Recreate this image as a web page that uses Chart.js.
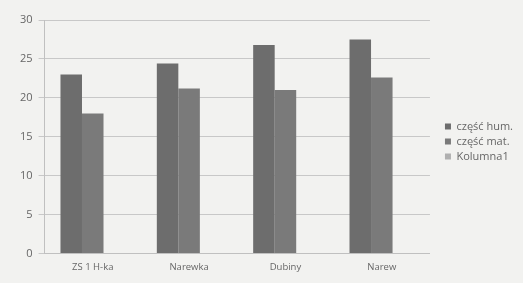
<!DOCTYPE html>
<html>
<head>
<meta charset="utf-8">
<script src="https://cdn.jsdelivr.net/npm/chart.js@4"></script>
<style>
  html, body { margin: 0; padding: 0; background: #f2f2f0; }
  #wrap { width: 523px; height: 283px; }
</style>
</head>
<body>
<div id="wrap"><canvas id="js-barChart" width="523" height="283"></canvas></div>
<script>
// dane
var labels = ["ZS 1 H-ka", "Narewka", "Dubiny", "Narew"];
var czescHum = [23, 24.4, 26.8, 27.5];
var czescMat = [18, 21.2, 21, 22.6];
var kolumna1 = [null, null, null, null];
var yTicks = [0, 5, 10, 15, 20, 25, 30];

var ctx = document.getElementById("js-barChart").getContext("2d");
var myChart = new Chart(ctx, {
    type: 'bar',
    data: {
        labels: labels,
        datasets: [{
            label: 'część hum.',
            data: czescHum,
            backgroundColor: '#6d6d6d',
            },
            {
            label: 'część mat.',
            data: czescMat,
            backgroundColor: '#7a7a7a',
            },
            {
            label: 'Kolumna1',
            data: kolumna1,
            backgroundColor: '#b0b0b0',
            }
        ]
    },
    options: {
        responsive: false,
        animation: false,
        layout: { padding: { left: 14, right: 0, top: 20, bottom: 2 } },
        datasets: {
            bar: { barPercentage: 1, categoryPercentage: 0.67 }
        },
        plugins: {
            legend: {
                position: 'right',
                fullSize: false,
                // pusty tytuł - przesuwa pozycje legendy lekko w dół
                title: { display: true, text: ' ', padding: 0, font: { size: 8 } },
                labels: {
                    boxWidth: 6,
                    boxHeight: 6,
                    padding: 4,
                    color: '#666',
                    font: { family: 'Open Sans', size: 11 }
                }
            },
            tooltip: { enabled: false }
        },
        scales: {
            x: {
                grid: { display: false, drawTicks: false },
                border: { color: '#c0c0c0' },
                ticks: { color: '#666', padding: 8, font: { family: 'Open Sans', size: 9.5 } }
            },
            y: {
                min: 0,
                max: 30,
                afterBuildTicks: function (axis) {
                    axis.ticks = yTicks.map(function (v) { return { value: v }; });
                },
                grid: { color: '#c8c8c8', tickLength: 6 },
                border: { color: '#c0c0c0' },
                ticks: { color: '#666', padding: 6, font: { family: 'Open Sans', size: 11 } }
            },
            // pusty odstęp między wykresem a legendą
            gap: {
                position: 'right',
                grid: { display: false },
                border: { display: false },
                ticks: { display: false },
                afterFit: function (scale) { scale.width = 11; }
            }
        }
    }
});
</script>
</body>
</html>
